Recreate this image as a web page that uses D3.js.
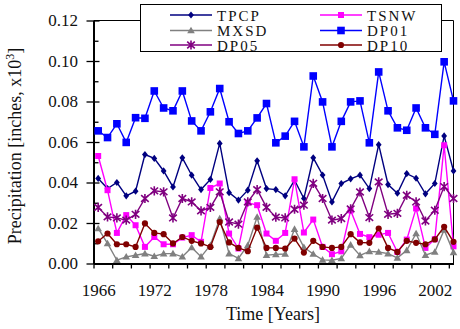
<!DOCTYPE html>
<html>
<head>
<meta charset="utf-8">
<script src="https://cdn.jsdelivr.net/npm/d3@7/dist/d3.min.js"></script>
<style>
  html, body { margin: 0; padding: 0; background: #fff; }
  svg { display: block; font-family: "Liberation Serif", "Times New Roman", serif; }
  svg text { font-family: "Liberation Serif", "Times New Roman", serif !important; }
</style>
</head>
<body>
<svg id="chart" width="460" height="329"></svg>
<script>
// Annual precipitation indices, 1966-2004
const years = d3.range(1966, 2005);

const tpcp = [0.042, 0.037, 0.040, 0.0334, 0.0357, 0.0538, 0.0519, 0.0457, 0.0378, 0.0522,
              0.0436, 0.0365, 0.0415, 0.0593, 0.035, 0.0313, 0.0362, 0.0507, 0.037, 0.0365,
              0.0334, 0.0411, 0.0321, 0.0522, 0.0437, 0.0304, 0.0395, 0.0418, 0.0436, 0.037,
              0.0587, 0.039, 0.0347, 0.0444, 0.0421, 0.0344, 0.0395, 0.063, 0.0457];
const tsnw = [0.0531, 0.0362, 0.0151, 0.0239, 0.0189, 0.0082, 0.0131, 0.0095, 0.0095, 0.0128,
              0.014, 0.0107, 0.0373, 0.0395, 0.0148, 0.0074, 0.030, 0.0288, 0.0148, 0.0112,
              0.0151, 0.0416, 0.0153, 0.0217, 0.0082, 0.0046, 0.006, 0.0262, 0.0146, 0.013,
              0.0142, 0.0151, 0.0057, 0.0118, 0.0272, 0.0077, 0.012, 0.0584, 0.0085];
const mxsd = [0.0173, 0.0099, 0.0016, 0.0033, 0.0041, 0.0049, 0.0036, 0.0049, 0.0049, 0.0033,
              0.0079, 0.0033, 0.009, 0.0222, 0.0049, 0.0025, 0.009, 0.023, 0.0041, 0.0045,
              0.0047, 0.017, 0.008, 0.0047, 0.0018, 0.0016, 0.0025, 0.0092, 0.004, 0.006,
              0.0057, 0.0049, 0.0028, 0.0065, 0.0148, 0.0041, 0.0057, 0.0166, 0.0055];
const dp01 = [0.0655, 0.0622, 0.069, 0.0598, 0.072, 0.0717, 0.0852, 0.0768, 0.0754, 0.0852,
              0.0704, 0.0655, 0.0749, 0.0864, 0.070, 0.0642, 0.0655, 0.0719, 0.079, 0.0596,
              0.0629, 0.0702, 0.0576, 0.0926, 0.0798, 0.0576, 0.0702, 0.0798, 0.0803, 0.0596,
              0.0946, 0.0754, 0.067, 0.0658, 0.0768, 0.067, 0.0638, 0.0996, 0.0803];
const dp05 = [0.0277, 0.023, 0.0225, 0.0214, 0.0243, 0.0321, 0.0359, 0.0354, 0.0225, 0.0321,
              0.0304, 0.026, 0.0277, 0.0354, 0.0205, 0.0194, 0.0304, 0.0365, 0.0277, 0.0229,
              0.0225, 0.0268, 0.0288, 0.0396, 0.0321, 0.0214, 0.0222, 0.027, 0.0353, 0.0227,
              0.0403, 0.0243, 0.0248, 0.0337, 0.0304, 0.021, 0.0263, 0.038, 0.0321];
const dp10 = [0.011, 0.0148, 0.0095, 0.0095, 0.0082, 0.0198, 0.0151, 0.0145, 0.0099, 0.0131,
              0.0112, 0.0099, 0.0082, 0.0205, 0.0104, 0.0077, 0.0061, 0.0177, 0.0077, 0.0077,
              0.0074, 0.0123, 0.0054, 0.0112, 0.0082, 0.0077, 0.0082, 0.0145, 0.0104, 0.0102,
              0.0173, 0.0077, 0.0057, 0.0112, 0.0102, 0.0095, 0.0119, 0.0181, 0.0107];

const yTicks = [0, 0.02, 0.04, 0.06, 0.08, 0.10, 0.12];
const yMinorTicks = [0.01, 0.03, 0.05, 0.07, 0.09, 0.11];
const xLabelYears = [1966, 1972, 1978, 1984, 1990, 1996, 2002];
const xTickMarks = d3.range(1965.5, 2004, 2);

// series table, drawn in this order
const series = [
  { name: "TPCP", values: tpcp, color: "#000080", marker: "diamond" },
  { name: "TSNW", values: tsnw, color: "#ff00ff", marker: "smallsquare" },
  { name: "MXSD", values: mxsd, color: "#808080", marker: "triangle" },
  { name: "DP01", values: dp01, color: "#0000ff", marker: "square" },
  { name: "DP05", values: dp05, color: "#800080", marker: "asterisk" },
  { name: "DP10", values: dp10, color: "#800000", marker: "circle" }
];

const FONT = "Liberation Serif, Times New Roman, serif";
const svg = d3.select("#chart");
const plotL = 93.5, plotR = 453.5, plotT = 20.5, plotB = 263.5;

const x = d3.scaleLinear().domain([1965.5, 2004]).range([plotL, plotR]);
const y = d3.scaleLinear().domain([0, 0.12]).range([plotB, plotT]);

// frame: thin top and right edges
svg.append("path")
  .attr("d", `M${plotL},${plotT}H${plotR}V${plotB}`)
  .attr("fill", "none").attr("stroke", "#000").attr("stroke-width", 1);

function styleAxis(g) {
  g.attr("font-family", FONT).attr("font-size", 17);
}

// y axis: major ticks crossing the axis, minor ticks inside
svg.append("g").attr("transform", `translate(${plotL},0)`)
  .call(d3.axisLeft(y).tickValues(yTicks).tickFormat(d3.format(".2f"))
    .tickSizeInner(7).tickSizeOuter(0).tickPadding(8.5))
  .call(styleAxis);
svg.append("g").attr("transform", `translate(${plotL},0)`)
  .call(d3.axisRight(y).tickValues(yTicks).tickFormat("").tickSizeInner(6).tickSizeOuter(0))
  .call(g => g.select(".domain").remove());
svg.append("g").attr("transform", `translate(${plotL},0)`)
  .call(d3.axisRight(y).tickValues(yMinorTicks).tickFormat("").tickSizeInner(5).tickSizeOuter(0))
  .call(g => g.select(".domain").remove());

// x axis: tick marks every two years, labels every six
svg.append("g").attr("transform", `translate(0,${plotB})`)
  .call(d3.axisBottom(x).tickValues(xTickMarks).tickFormat("").tickSizeInner(5).tickSizeOuter(0));
svg.append("g").attr("transform", `translate(0,${plotB})`)
  .call(d3.axisBottom(x).tickValues(xLabelYears).tickFormat(d3.format("d")).tickSize(0).tickPadding(20.5))
  .call(g => g.select(".domain").remove())
  .call(styleAxis);

svg.selectAll(".tick line").attr("stroke", "#000").attr("stroke-width", 1.3);
svg.selectAll(".domain").attr("stroke", "#000").attr("stroke-width", 2);
svg.selectAll(".tick text").attr("fill", "#111");

// axis titles
svg.append("text")
  .attr("x", 273).attr("y", 320)
  .attr("text-anchor", "middle")
  .attr("font-family", FONT).attr("font-size", 18).attr("fill", "#111")
  .text("Time [Years]");

const yTitle = svg.append("text")
  .attr("transform", "translate(21,146) rotate(-90)")
  .attr("text-anchor", "middle")
  .attr("font-family", FONT).attr("font-size", 18).attr("fill", "#111");
yTitle.append("tspan").text("Precipitation [inches, x10");
yTitle.append("tspan").attr("dy", -7).attr("font-size", 12).text("3");
yTitle.append("tspan").attr("dy", 7).text("]");

// marker shapes
function markerPath(kind) {
  switch (kind) {
    case "diamond": return "M0,-3.6L2.9,0L0,3.6L-2.9,0Z";
    case "smallsquare": return "M-3,-3H3V3H-3Z";
    case "square": return "M-3.8,-3.8H3.8V3.8H-3.8Z";
    case "triangle": return "M0,-3.8L3.8,2.8H-3.8Z";
    case "circle": return d3.symbol(d3.symbolCircle, 30)();
    case "asterisk": return "M0,-4.6V4.6M-3.8,-3.3L3.8,3.3M-3.8,3.3L3.8,-3.3";
  }
}
function drawMarker(sel, s) {
  sel.attr("d", markerPath(s.marker));
  if (s.marker === "asterisk") {
    sel.attr("fill", "none").attr("stroke", s.color).attr("stroke-width", 1.6);
  } else {
    sel.attr("fill", s.color).attr("stroke", "none");
  }
}

const line = d3.line().x((d, i) => x(years[i])).y(d => y(d));

series.forEach(s => {
  const g = svg.append("g");
  g.append("path")
    .datum(s.values)
    .attr("d", line)
    .attr("fill", "none")
    .attr("stroke", s.color)
    .attr("stroke-width", 1.4);
  g.selectAll("path.mk")
    .data(s.values)
    .join("path")
    .attr("class", "mk")
    .attr("transform", (d, i) => `translate(${x(years[i])},${y(d)})`)
    .call(drawMarker, s);
});

// legend
const legend = svg.append("g");
legend.append("rect")
  .attr("x", 140.5).attr("y", 4.5).attr("width", 301).attr("height", 47)
  .attr("fill", "#fff").attr("stroke", "#000").attr("stroke-width", 1);

const colX = [170, 320];
const rowY = [15, 30.5, 45];
series.forEach((s, i) => {
  const cx = colX[i % 2], cy = rowY[Math.floor(i / 2)];
  const it = legend.append("g").attr("transform", `translate(${cx},${cy})`);
  it.append("line").attr("x1", 0).attr("x2", 42).attr("y1", 0).attr("y2", 0)
    .attr("stroke", s.color).attr("stroke-width", 1.5);
  it.append("path").attr("transform", "translate(21,0)").call(drawMarker, s);
  it.append("text")
    .attr("x", 47).attr("y", 5.5)
    .attr("font-family", FONT).attr("font-size", 15)
    .style("letter-spacing", "2px")
    .attr("fill", "#111")
    .text(s.name);
});
</script>
</body>
</html>
